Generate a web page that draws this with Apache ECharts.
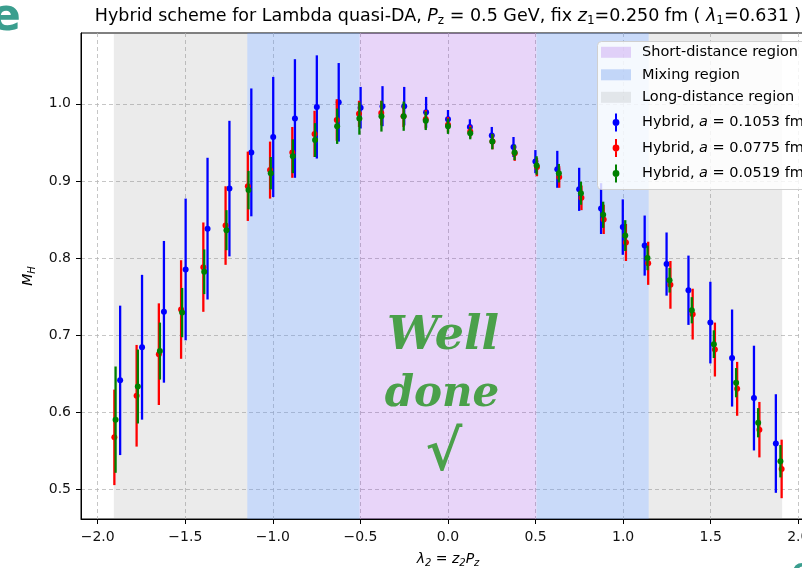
<!DOCTYPE html>
<html>
<head>
<meta charset="utf-8">
<title>Hybrid scheme for Lambda quasi-DA</title>
<script src="https://cdn.jsdelivr.net/npm/echarts@6/dist/echarts.min.js"></script>
<style>
  html, body { margin: 0; padding: 0; background: #ffffff; }
  #chart { width: 802px; height: 568px; }
</style>
</head>
<body>
<div id="chart"></div>
<script>
// ---- data -------------------------------------------------------------
// lambda_2 = z_2 * P_z sampled on each ensemble
const lambdaA1053 = [-1.872, -1.747, -1.622, -1.498, -1.373, -1.248, -1.123, -0.998, -0.874, -0.749, -0.624,
  -0.499, -0.374, -0.250, -0.125, 0.000, 0.125, 0.250, 0.374, 0.499, 0.624, 0.749, 0.874, 0.998, 1.123, 1.248,
  1.373, 1.498, 1.622, 1.747, 1.872];
const lambdaA0775 = [-1.905, -1.778, -1.651, -1.524, -1.397, -1.270, -1.143, -1.016, -0.889, -0.762, -0.635,
  -0.508, -0.381, -0.254, -0.127, 0.000, 0.127, 0.254, 0.381, 0.508, 0.635, 0.762, 0.889, 1.016, 1.143, 1.270,
  1.397, 1.524, 1.651, 1.778, 1.905];
const lambdaA0519 = [-1.898, -1.771, -1.645, -1.518, -1.392, -1.265, -1.139, -1.012, -0.886, -0.759, -0.633,
  -0.506, -0.380, -0.253, -0.127, 0.000, 0.127, 0.253, 0.380, 0.506, 0.633, 0.759, 0.886, 1.012, 1.139, 1.265,
  1.392, 1.518, 1.645, 1.771, 1.898];

// hybrid ratio M_H and its uncertainty
const mhA1053 = [0.641, 0.684, 0.730, 0.785, 0.838, 0.890, 0.937, 0.957, 0.981, 0.996, 1.002, 0.995, 0.997, 0.997,
  0.989, 0.980, 0.970, 0.959, 0.944, 0.925, 0.915, 0.889, 0.864, 0.840, 0.816, 0.792, 0.758, 0.716, 0.670, 0.618, 0.559];
const errA1053 = [0.097, 0.094, 0.092, 0.092, 0.092, 0.088, 0.083, 0.078, 0.077, 0.067, 0.051, 0.027, 0.026, 0.025,
  0.020, 0.012, 0.010, 0.011, 0.013, 0.015, 0.024, 0.028, 0.033, 0.036, 0.039, 0.041, 0.045, 0.053, 0.063, 0.068, 0.064];

const mhA0775 = [0.567, 0.621, 0.675, 0.733, 0.788, 0.842, 0.893, 0.914, 0.937, 0.961, 0.979, 0.987, 0.988, 0.984,
  0.980, 0.973, 0.964, 0.951, 0.936, 0.918, 0.905, 0.878, 0.850, 0.820, 0.793, 0.765, 0.727, 0.681, 0.630, 0.577, 0.526];
const errA0775 = [0.062, 0.066, 0.066, 0.064, 0.058, 0.051, 0.045, 0.037, 0.033, 0.030, 0.027, 0.017, 0.016, 0.014,
  0.012, 0.010, 0.008, 0.010, 0.010, 0.012, 0.014, 0.016, 0.019, 0.024, 0.028, 0.031, 0.033, 0.035, 0.035, 0.036, 0.038];

const mhA0519 = [0.590, 0.633, 0.679, 0.729, 0.782, 0.836, 0.888, 0.910, 0.932, 0.953, 0.971, 0.981, 0.984, 0.984,
  0.978, 0.971, 0.962, 0.951, 0.937, 0.920, 0.910, 0.884, 0.856, 0.829, 0.800, 0.771, 0.732, 0.688, 0.638, 0.586, 0.536];
const errA0519 = [0.069, 0.048, 0.037, 0.032, 0.029, 0.026, 0.025, 0.021, 0.022, 0.022, 0.023, 0.021, 0.020, 0.019,
  0.012, 0.010, 0.008, 0.010, 0.010, 0.012, 0.012, 0.015, 0.017, 0.020, 0.016, 0.016, 0.017, 0.018, 0.019, 0.019, 0.021];

// lambda ranges of the three regions
const shortDistanceSpans = [[-0.505, 0.505]];
const mixingSpans = [[-1.146, -0.505], [0.505, 1.146]];
const longDistanceSpans = [[-1.908, -1.146], [1.146, 1.908]];

// axis ticks
const xTicks = [-2.0, -1.5, -1.0, -0.5, 0.0, 0.5, 1.0, 1.5, 2.0];
const yTicks = [0.5, 0.6, 0.7, 0.8, 0.9, 1.0];

// ---- styling ----------------------------------------------------------
const FONT = '"DejaVu Sans", "Liberation Sans", sans-serif';
const SERIF = '"DejaVu Serif", "Liberation Serif", serif';

const patchIcon = 'path://M0,0 M30,18 M0,3.5 L30,3.5 L30,14.5 L0,14.5 Z';
const errIcon = 'path://M0,0 M30,18 M14,0 L16,0 L16,18 L14,18 Z M15,5.6 A3.4,3.4 0 1 1 15,12.4 A3.4,3.4 0 1 1 15,5.6 Z';

const tickText = v => {
  const s = Math.abs(v) < 1e-9 ? '0.0' : v.toFixed(1);
  return s.replace('-', '\u2212');
};
const onGrid = (v, step) => Math.abs(v / step - Math.round(v / step)) < 1e-6;

function regionSeries(name, color, spans) {
  return {
    name: name,
    type: 'custom',
    silent: true,
    z: 1,
    itemStyle: { color: color },
    data: spans,
    encode: { x: [0, 1] },
    renderItem: function (params, api) {
      const a = api.coord([api.value(0), 0.8]);
      const b = api.coord([api.value(1), 0.8]);
      const cs = params.coordSys;
      return {
        type: 'rect',
        shape: { x: a[0], y: cs.y, width: b[0] - a[0], height: cs.height },
        style: { fill: color }
      };
    }
  };
}

function errorBarSeries(name, color, xs, ys, errs, z) {
  return {
    name: name,
    type: 'custom',
    z: z,
    itemStyle: { color: color },
    data: xs.map((x, i) => [x, ys[i], errs[i]]),
    encode: { x: 0, y: 1 },
    renderItem: function (params, api) {
      const x = api.value(0), y = api.value(1), e = api.value(2);
      const hi = api.coord([x, y + e]);
      const lo = api.coord([x, y - e]);
      const c = api.coord([x, y]);
      return {
        type: 'group',
        children: [
          { type: 'line', shape: { x1: hi[0], y1: hi[1], x2: lo[0], y2: lo[1] },
            style: { stroke: color, lineWidth: 2.3 } },
          { type: 'circle', shape: { cx: c[0], cy: c[1], r: 3 }, style: { fill: color } }
        ]
      };
    }
  };
}

const legendRich = {
  n: { fontSize: 14.5, fontFamily: FONT, color: '#000' },
  i: { fontSize: 14.5, fontFamily: FONT, fontStyle: 'italic', color: '#000' }
};
const legendFormatter = function (name) {
  const m = name.match(/^Hybrid, a = (.*)$/);
  if (m) return '{n|Hybrid, }{i|a}{n| = ' + m[1] + '}';
  return '{n|' + name + '}';
};
const legendBase = {
  orient: 'vertical', left: 597,
  itemWidth: 30, itemHeight: 18,
  padding: [0, 0, 0, 4],
  selectedMode: false,
  textStyle: { fontSize: 14.5, fontFamily: FONT, color: '#000', padding: [0, 0, 0, 6], rich: legendRich },
  formatter: legendFormatter,
  z: 12
};

const splitLineStyle = { color: '#b8b8b8', width: 0.8, type: [4, 3] };

const chart = echarts.init(document.getElementById('chart'), null, { renderer: 'canvas' });

chart.setOption({
  animation: false,
  backgroundColor: '#ffffff',
  grid: { left: 81, top: 33, width: 734, height: 486, show: true, borderColor: '#000', borderWidth: 1,
          backgroundColor: 'transparent', containLabel: false, outerBoundsMode: 'none' },
  xAxis: {
    type: 'value', min: -2.0955, max: 2.0955, minInterval: 0.5, maxInterval: 0.5,
    axisLine: { show: true, onZero: false, lineStyle: { color: '#000', width: 1 } },
    axisTick: { show: true, length: 5, customValues: xTicks, lineStyle: { color: '#000' } },
    axisLabel: { fontSize: 14, fontFamily: FONT, color: '#111', margin: 11, customValues: xTicks,
                 formatter: v => onGrid(v, 0.5) ? tickText(v) : '' },
    splitLine: { show: true, lineStyle: splitLineStyle },
    name: '{i|\u03bb}{s|2}{n| = }{i|z}{s|2}{i|P}{s|z}',
    nameLocation: 'middle', nameGap: 31,
    nameTextStyle: {
      rich: {
        n: { fontSize: 14, fontFamily: FONT, color: '#000' },
        i: { fontSize: 14, fontFamily: FONT, fontStyle: 'italic', color: '#000' },
        s: { fontSize: 10, fontFamily: FONT, fontStyle: 'italic', color: '#000', padding: [8, 0, 0, 0] }
      }
    }
  },
  yAxis: {
    type: 'value', min: 0.461, max: 1.092, minInterval: 0.1, maxInterval: 0.1,
    axisLine: { show: true, onZero: false, lineStyle: { color: '#000', width: 1 } },
    axisTick: { show: true, length: 5, customValues: yTicks, lineStyle: { color: '#000' } },
    axisLabel: { fontSize: 14, fontFamily: FONT, color: '#111', margin: 10, customValues: yTicks,
                 formatter: v => onGrid(v, 0.1) ? tickText(v) : '' },
    splitLine: { show: true, lineStyle: splitLineStyle },
    name: '{i|M}{s|H}',
    nameLocation: 'middle', nameGap: 44, nameRotate: 90,
    nameTextStyle: {
      rich: {
        i: { fontSize: 14, fontFamily: FONT, fontStyle: 'italic', color: '#000' },
        s: { fontSize: 10, fontFamily: FONT, fontStyle: 'italic', color: '#000', padding: [8, 0, 0, 0] }
      }
    }
  },
  legend: [
    Object.assign({}, legendBase, {
      top: 43.3, itemGap: 4.5,
      data: [
        { name: 'Short-distance region', icon: patchIcon },
        { name: 'Mixing region', icon: patchIcon },
        { name: 'Long-distance region', icon: patchIcon }
      ]
    }),
    Object.assign({}, legendBase, {
      top: 113.5, itemGap: 7.5,
      data: [
        { name: 'Hybrid, a = 0.1053 fm', icon: errIcon },
        { name: 'Hybrid, a = 0.0775 fm', icon: errIcon },
        { name: 'Hybrid, a = 0.0519 fm', icon: errIcon }
      ]
    })
  ],
  series: [
    regionSeries('Short-distance region', 'rgba(138,43,226,0.2)', shortDistanceSpans),
    regionSeries('Mixing region', 'rgba(100,149,237,0.35)', mixingSpans),
    regionSeries('Long-distance region', 'rgba(128,128,128,0.16)', longDistanceSpans),
    errorBarSeries('Hybrid, a = 0.1053 fm', '#0000ff', lambdaA1053, mhA1053, errA1053, 5),
    errorBarSeries('Hybrid, a = 0.0775 fm', '#ff0000', lambdaA0775, mhA0775, errA0775, 6),
    errorBarSeries('Hybrid, a = 0.0519 fm', '#008000', lambdaA0519, mhA0519, errA0519, 7)
  ],
  graphic: [
    {
      // legend frame
      type: 'rect', z: 10,
      shape: { x: 597.5, y: 41.5, width: 230, height: 148, r: 4 },
      style: { fill: 'rgba(255,255,255,0.82)', stroke: '#d0d0d0', lineWidth: 1 }
    },
    {
      type: 'text', x: 448, y: 6, z: 20,
      style: {
        text: '{n|Hybrid scheme for Lambda quasi-DA, }{i|P}{s|z}{n| = 0.5 GeV, fix }{i|z}{s|1}{n|=0.250 fm ( }{i|\u03bb}{s|1}{n|=0.631 )}',
        align: 'center', verticalAlign: 'top',
        rich: {
          n: { fontSize: 17.5, fontFamily: FONT, fill: '#000' },
          i: { fontSize: 17.5, fontFamily: FONT, fontStyle: 'italic', fill: '#000' },
          s: { fontSize: 12, fontFamily: FONT, fill: '#000', padding: [9, 0, 0, 0] }
        }
      }
    },
    {
      type: 'text', x: 443, y: 337, z: 20,
      style: { text: 'Well', font: 'italic bold 46px ' + SERIF, fill: '#4aa04a', align: 'center', verticalAlign: 'middle' }
    },
    {
      type: 'text', x: 442, y: 395, z: 20,
      style: { text: 'done', font: 'italic bold 42px ' + SERIF, fill: '#4aa04a', align: 'center', verticalAlign: 'middle' }
    },
    {
      type: 'text', x: 444, y: 455, z: 20,
      style: { text: '\u221a', font: 'bold 56px ' + SERIF, fill: '#4aa04a', align: 'center', verticalAlign: 'middle' }
    },
    {
      type: 'text', x: -9, y: 19, z: 20,
      style: { text: 'e', font: 'bold 44px ' + FONT, fill: '#3a9e8e', align: 'left', verticalAlign: 'middle' }
    },
    {
      type: 'text', x: 792, y: 557, z: 20,
      style: { text: 'e', font: 'bold 30px ' + FONT, fill: '#3a9e8e', align: 'left', verticalAlign: 'top' }
    }
  ]
});
</script>
</body>
</html>
